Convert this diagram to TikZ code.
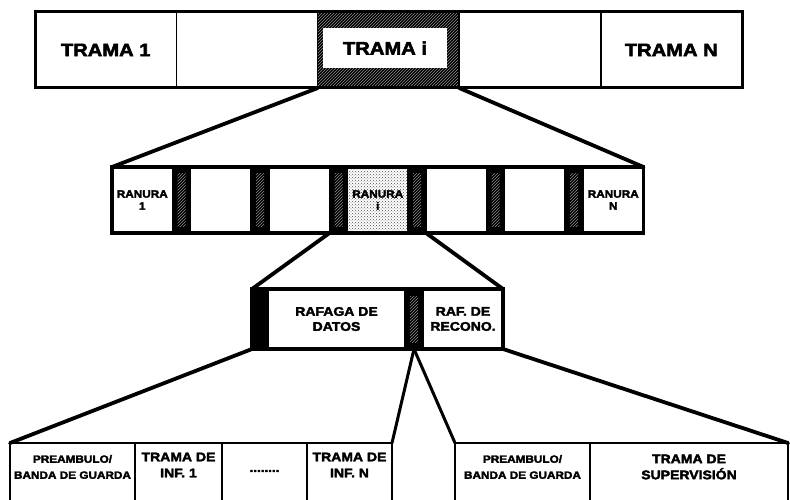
\documentclass[tikz,border=0pt]{standalone}
\usepackage{fontspec}
\setmainfont{Liberation Sans}[BoldFeatures={FakeBold=3,FakeStretch=1.12}]
\usetikzlibrary{patterns}

\begin{document}
\begin{tikzpicture}[x=1pt, y=-1pt,
    cell/.style={draw, line width=1.8pt, inner sep=0pt, outer sep=0pt, anchor=north west, align=center, font=\bfseries},
    slot/.style={cell, minimum width=60.5pt, minimum height=66pt, font=\bfseries\fontsize{10.5}{12}\selectfont},
    slotsel/.style={slot, fill=white, postaction={pattern=crosshatch dots, pattern color=black!70}},
    sep/.style={fill=black, inner sep=0pt, outer sep=0pt, anchor=north west,
        path picture={\fill[pattern=north east lines, pattern color=black!45]
            ([xshift=5pt,yshift=-7pt]path picture bounding box.north west) rectangle
            ([xshift=-5pt,yshift=7pt]path picture bounding box.south east);}},
    lowtxt/.style={align=center, inner sep=0pt, font=\bfseries\fontsize{10.5}{16}\selectfont},
    zoom/.style={line width=3.8pt, line cap=round, line join=round}]
    \clip (0,0) rectangle (790,500);

    % Top level: sequence of frames
    \node[cell, minimum width=141.4pt, minimum height=76pt, font=\bfseries\fontsize{18}{20}\selectfont] (t1) at (35,12) {TRAMA 1};
    \node[cell, minimum width=141.4pt, minimum height=76pt] (t2) at (176.4,12) {};
    \node[cell, minimum width=141.4pt, minimum height=76pt, fill=black,
        postaction={pattern=north east lines, pattern color=black!45}] (trami) at (317.8,12) {};
    \node[cell, minimum width=141.4pt, minimum height=76pt] (t4) at (459.2,12) {};
    \node[cell, minimum width=141.4pt, minimum height=76pt, font=\bfseries\fontsize{18}{20}\selectfont] (tN) at (600.6,12) {TRAMA N};
    \node[fill=white, inner sep=0pt, minimum width=124pt, minimum height=40pt,
        font=\bfseries\fontsize{18}{20}\selectfont] (tramilab) at (385,48) {TRAMA i};
    \draw[line width=3pt] (t1.north west) rectangle (tN.south east);

    % Second level: slots of frame i
    \foreach \lab/\sty [count=\i] in {{RANURA\\1}/slot, {}/slot, {}/slot, {RANURA\\i}/slotsel, {}/slot, {}/slot, {RANURA\\N}/slot}
        \node[\sty] (s\i) at ({112+78.5*(\i-1)},167) {\lab};
    \foreach \i in {1,...,6}
        \node[sep, minimum width=18pt, minimum height=66pt] (d\i) at ({172.5+78.5*(\i-1)},167) {};
    \draw[line width=3.5pt] (s1.north west) rectangle (s7.south east);

    % Third level: bursts of slot i
    \node[cell, fill=black, minimum width=16pt, minimum height=60pt] (guard) at (252,289) {};
    \node[cell, minimum width=137pt, minimum height=60pt, font=\bfseries\fontsize{12.5}{15}\selectfont] (datos) at (268,289) {RAFAGA DE\\DATOS};
    \node[sep, minimum width=18pt, minimum height=60pt] (rsep) at (405,289) {};
    \node[cell, minimum width=80pt, minimum height=60pt, font=\bfseries\fontsize{12.5}{15}\selectfont] (reco) at (423,289) {RAF. DE\\RECONO.};
    \draw[line width=3.5pt] (guard.north west) rectangle (reco.south east);

    % Bottom level: contents of each burst
    \node[cell, line width=2.2pt, minimum width=125pt, minimum height=80pt] (pb1) at (10,443) {};
    \node[cell, line width=2.2pt, minimum width=87pt, minimum height=80pt] (inf1) at (135,443) {};
    \node[cell, line width=2.2pt, minimum width=85pt, minimum height=80pt] (infdots) at (222,443) {};
    \node[cell, line width=2.2pt, minimum width=85pt, minimum height=80pt] (infN) at (307,443) {};
    \node[cell, line width=2.2pt, minimum width=135pt, minimum height=80pt] (pb2) at (455,443) {};
    \node[cell, line width=2.2pt, minimum width=198pt, minimum height=80pt] (sup) at (590,443) {};

    \node[lowtxt] (pb1t) at ([yshift=-24pt]pb1.north) {PREAMBULO/\\BANDA DE GUARDA};
    \node[lowtxt, font=\bfseries\fontsize{12.5}{16}\selectfont] (inf1t) at ([yshift=-22pt]inf1.north) {TRAMA DE\\INF. 1};
    \node[lowtxt, font=\bfseries\fontsize{12}{16}\selectfont] (infdotst) at ([yshift=-28pt]infdots.north) {........};
    \node[lowtxt, font=\bfseries\fontsize{12.5}{16}\selectfont] (infNt) at ([yshift=-22pt]infN.north) {TRAMA DE\\INF. N};
    \node[lowtxt] (pb2t) at ([yshift=-24pt]pb2.north) {PREAMBULO/\\BANDA DE GUARDA};
    \node[lowtxt, font=\bfseries\fontsize{12.5}{16}\selectfont] (supt) at ([yshift=-24pt]sup.north) {TRAMA DE\\SUPERVISIÓN};

    % Expansion lines between levels
    \draw[zoom] (trami.south west) -- (s1.north west);
    \draw[zoom] (trami.south east) -- (s7.north east);
    \draw[zoom] (d3.south west) -- (guard.north west);
    \draw[zoom] (d4.south east) -- (reco.north east);
    \draw[zoom] (guard.south west) -- (pb1.north west);
    \draw[zoom] (reco.south east) -- (sup.north east);
    \draw[zoom, line width=3pt] (rsep.south) -- (infN.north east);
    \draw[zoom, line width=3pt] (rsep.south) -- (pb2.north west);
\end{tikzpicture}
\end{document}
